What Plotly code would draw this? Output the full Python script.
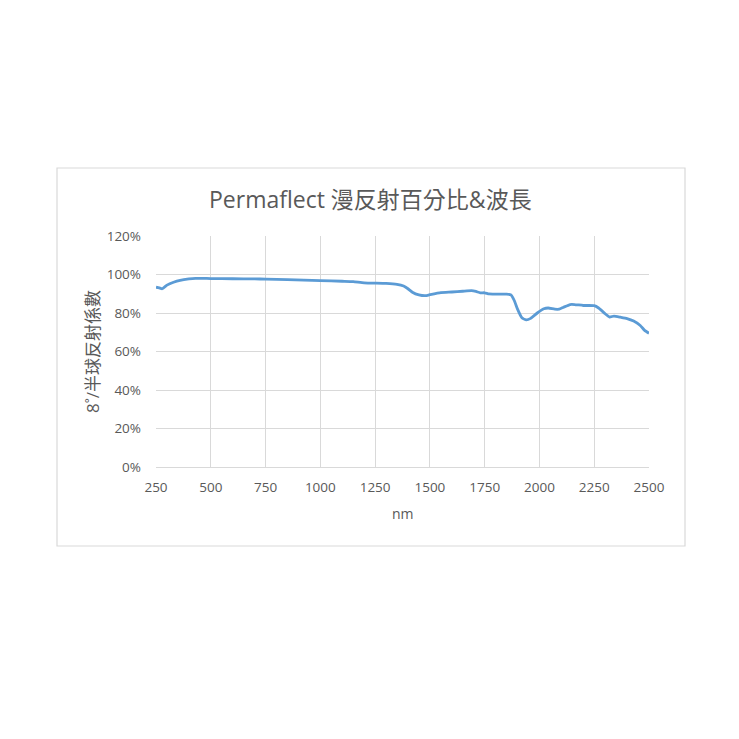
import plotly.graph_objects as go

wavelength_nm = [250, 265, 278, 300, 330, 360, 400, 430, 500, 600, 700, 750, 850, 1000, 1100, 1150,
                 1200, 1300, 1350, 1380, 1400, 1420, 1450, 1480, 1500, 1550, 1600, 1650, 1690, 1710,
                 1730, 1750, 1770, 1800, 1850, 1870, 1885, 1900, 1920, 1940, 1960, 1990, 2020, 2040,
                 2070, 2090, 2110, 2140, 2160, 2200, 2250, 2270, 2300, 2320, 2340, 2370, 2400, 2430,
                 2460, 2480, 2500]
reflectance_pct = [93.4, 93.0, 92.6, 94.5, 96.0, 97.0, 97.7, 98.0, 97.9, 97.8, 97.7, 97.6, 97.3, 96.8,
                   96.5, 96.3, 95.7, 95.4, 94.9, 94.0, 92.6, 90.8, 89.4, 89.0, 89.5, 90.6, 90.9, 91.3,
                   91.6, 91.2, 90.5, 90.5, 89.9, 89.8, 89.8, 89.4, 86.5, 82.0, 77.5, 76.4, 77.2, 80.0,
                   82.2, 82.6, 82.0, 82.0, 83.0, 84.4, 84.4, 83.9, 83.8, 82.6, 79.6, 77.9, 78.4, 77.8,
                   77.1, 75.8, 73.5, 71.0, 69.5]

x_ticks = [250, 500, 750, 1000, 1250, 1500, 1750, 2000, 2250, 2500]
y_ticks = [0, 20, 40, 60, 80, 100, 120]
y_tick_labels = ["0%", "20%", "40%", "60%", "80%", "100%", "120%"]

title_text = "Permaflect 漫反射百分比&波長"
x_title = "nm"
y_title = "8˚/半球反射係數"

font_fam = "Open Sans, Noto Sans CJK TC, sans-serif"
grey = "#595959"

# page has an 8px body margin; figure is placed at (8, 8)
PL, PT, PW, PH = 148, 228, 493, 231

def px_x(px):
    return (px - 8 - PL) / PW

def px_y(py):
    return (PT + PH + 8 - py) / PH

fig = go.Figure()
fig.add_trace(go.Scatter(
    x=wavelength_nm, y=reflectance_pct, mode="lines",
    line=dict(color="#5b9bd5", width=2.8, shape="spline", smoothing=0.5),
    showlegend=False, hoverinfo="x+y",
))

fig.update_layout(
    width=731, height=731,
    margin=dict(l=PL, r=731 - PL - PW, t=PT, b=731 - PT - PH),
    paper_bgcolor="white", plot_bgcolor="white",
    font=dict(family=font_fam, color=grey),
    showlegend=False,
    xaxis=dict(
        range=[250, 2500], tickvals=x_ticks, ticktext=[str(v) for v in x_ticks],
        showgrid=True, gridcolor="#d9d9d9", gridwidth=1, zeroline=False,
        showline=True, linecolor="#d9d9d9", mirror=False,
        tickfont=dict(size=13.5, color=grey), ticks="", ticklen=0,
        ticklabelstandoff=8,
    ),
    yaxis=dict(
        range=[0, 120], tickvals=y_ticks, ticktext=y_tick_labels,
        showgrid=True, gridcolor="#d9d9d9", gridwidth=1, zeroline=False,
        showline=False,
        tickfont=dict(size=13.5, color=grey), ticks="", ticklen=0,
        ticklabelstandoff=14,
    ),
    shapes=[dict(type="rect", xref="paper", yref="paper",
                 x0=px_x(57), x1=px_x(685), y0=px_y(546), y1=px_y(168),
                 line=dict(color="#d9d9d9", width=1.2), fillcolor="rgba(0,0,0,0)", layer="below")],
    annotations=[
        dict(text=title_text, xref="paper", yref="paper",
             x=px_x(370), y=px_y(199), xanchor="center", yanchor="middle", showarrow=False,
             font=dict(size=23, color=grey, family=font_fam)),
        dict(text=x_title, xref="paper", yref="paper",
             x=px_x(403), y=px_y(513), xanchor="center", yanchor="middle", showarrow=False,
             font=dict(size=14, color=grey, family=font_fam)),
        dict(text=y_title, xref="paper", yref="paper", textangle=-90,
             x=px_x(92), y=px_y(352), xanchor="center", yanchor="middle", showarrow=False,
             font=dict(size=17, color=grey, family=font_fam)),
    ],
)

fig.write_html("out.html")
